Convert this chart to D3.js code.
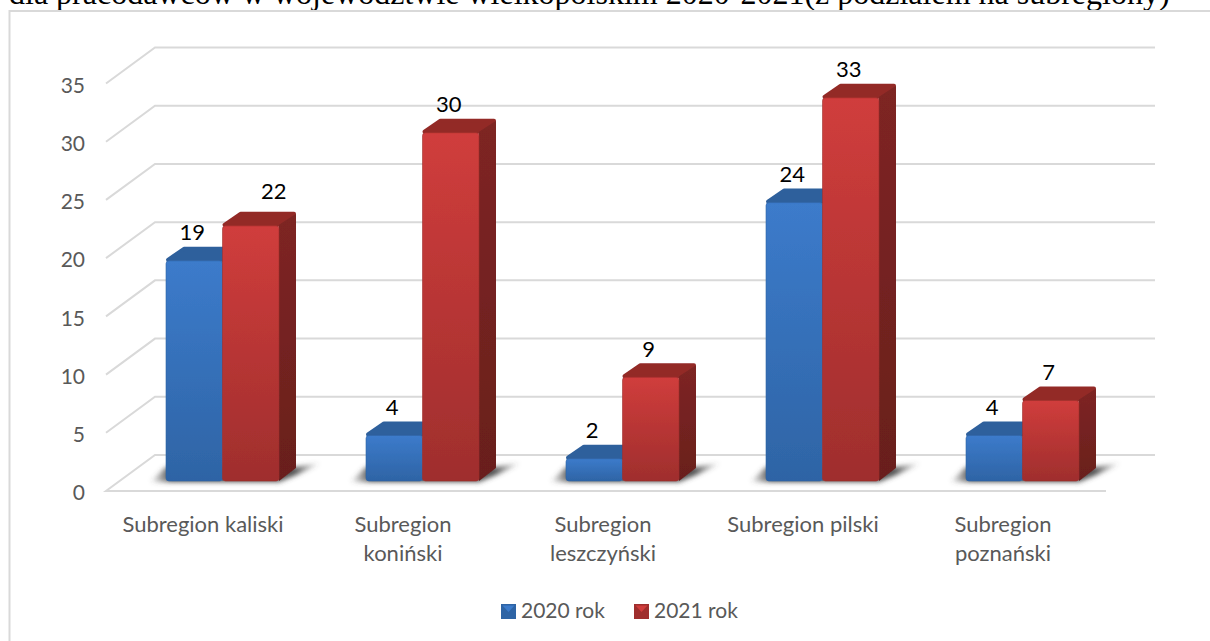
<!DOCTYPE html>
<html>
<head>
<meta charset="utf-8">
<script src="https://cdnjs.cloudflare.com/ajax/libs/d3/7.8.5/d3.min.js"></script>
<style>
  html, body { margin: 0; padding: 0; background: #fff; overflow: hidden; }
  text { font-family: Lato, "Open Sans", sans-serif; }
</style>
</head>
<body>
<div id="chart"></div>
<script>
const titleText = "dla pracodawców w województwie wielkopolskim 2020-2021(z podziałem na subregiony)";
const categories = [["Subregion kaliski"], ["Subregion", "koniński"], ["Subregion", "leszczyński"], ["Subregion pilski"], ["Subregion", "poznański"]];
const seriesNames = ["2020 rok", "2021 rok"];
const values2020 = [19, 4, 2, 24, 4];
const values2021 = [22, 30, 9, 33, 7];
const yTicks = [0, 5, 10, 15, 20, 25, 30, 35];

const width = 1210, height = 641;
const depth = { x: 49, y: 36 };      // floor depth of the fake 3d box
const barDepth = { x: 17, y: 13 };   // depth of a single column
const colors = {
  blue: { top: "#2f609c", side: "#2a568c", light: "#3c7bcb", dark: "#2e64a5" },
  red: { top: "#932a28", side: "#7e2523", light: "#d03d3c", dark: "#9f2e2d" }
};
const series = [
  { name: seriesNames[0], values: values2020, color: colors.blue, id: "blue" },
  { name: seriesNames[1], values: values2021, color: colors.red, id: "red" }
];

const svg = d3.select("#chart").append("svg")
  .attr("width", width)
  .attr("height", height);

const defs = svg.append("defs");
series.forEach(s => {
  const g = defs.append("linearGradient").attr("id", "front-" + s.id)
    .attr("x1", 0).attr("y1", 0).attr("x2", 0).attr("y2", 1);
  g.append("stop").attr("offset", 0).attr("stop-color", s.color.light);
  g.append("stop").attr("offset", 1).attr("stop-color", s.color.dark);
  const sg = defs.append("linearGradient").attr("id", "side-" + s.id)
    .attr("x1", 0).attr("y1", 0).attr("x2", 0).attr("y2", 1);
  sg.append("stop").attr("offset", 0).attr("stop-color", s.color.side);
  sg.append("stop").attr("offset", 1).attr("stop-color", d3.color(s.color.side).darker(0.5));
});
const shadowGrad = defs.append("linearGradient").attr("id", "shadow")
  .attr("x1", 0).attr("y1", 0).attr("x2", 1).attr("y2", 0);
shadowGrad.append("stop").attr("offset", 0).attr("stop-color", "#4a4a4a").attr("stop-opacity", 0);
shadowGrad.append("stop").attr("offset", 0.12).attr("stop-color", "#4a4a4a").attr("stop-opacity", 0.95);
shadowGrad.append("stop").attr("offset", 0.85).attr("stop-color", "#4a4a4a").attr("stop-opacity", 0.95);
shadowGrad.append("stop").attr("offset", 1).attr("stop-color", "#4a4a4a").attr("stop-opacity", 0);
defs.append("filter").attr("id", "blur").attr("x", "-20%").attr("y", "-50%").attr("width", "140%").attr("height", "200%")
  .append("feGaussianBlur").attr("stdDeviation", 2.5);
defs.append("filter").attr("id", "soft")
  .append("feGaussianBlur").attr("stdDeviation", 0.4);

// title running off the top of the page
svg.append("text")
  .attr("x", 9)
  .attr("y", 4)
  .style("font-family", "'Liberation Serif', serif")
  .style("font-size", "32px")
  .attr("fill", "#000")
  .text(titleText);

// chart frame, open at the right and bottom edge of the page
svg.append("path")
  .attr("d", `M9.5,${height}V11H${width}`)
  .attr("fill", "none")
  .attr("stroke", "#d9d9d9")
  .attr("stroke-width", 2);

const x0 = d3.scaleBand().domain(d3.range(categories.length)).range([106, 1106]);
const x1 = d3.scaleBand().domain(seriesNames).range([0, 113]);
const y = d3.scaleLinear().domain([0, 35]).range([491, 83.5]);
const barStart = i => x0(i) + x0.bandwidth() / 2 - 40;
const barBase = 10;  // columns stand a bit behind the front edge of the floor

// gridlines
svg.append("g").selectAll("path").data(yTicks).join("path")
  .attr("d", d => d === 0
    ? `M${x0.range()[1]},${y(0)}H${x0.range()[0]}L${x0.range()[0] + depth.x},${y(0) - depth.y}H${x0.range()[1] + depth.x}`
    : `M${x0.range()[0]},${y(d)}L${x0.range()[0] + depth.x},${y(d) - depth.y}H${x0.range()[1] + depth.x}`)
  .attr("fill", "none")
  .attr("stroke", "#d9d9d9")
  .attr("stroke-width", 2);

// value axis
const yAxis = svg.append("g")
  .attr("transform", "translate(91,0)")
  .call(d3.axisLeft(y).tickValues(yTicks).tickSize(0).tickPadding(6));
yAxis.select(".domain").remove();
yAxis.selectAll("text")
  .attr("dy", "0.42em")
  .style("font-family", "Lato, sans-serif")
  .style("font-size", "21px")
  .attr("fill", "#595959");

// floor shadows
svg.append("g").selectAll("path").data(categories).join("path")
  .attr("d", (d, i) => {
    const a = barStart(i), b = a + x1.bandwidth() * 2, base = y(0) - barBase;
    return `M${a - 16},${base + 1}L${a},${base - 14}H${b + 17}L${b + 42},${base - 18}L${b + 17},${base - 6}L${b},${base + 1}Z`;
  })
  .attr("fill", "url(#shadow)")
  .attr("filter", "url(#blur)");

// columns
const groups = svg.selectAll("g.cat").data(categories).join("g")
  .attr("class", "cat")
  .attr("filter", "url(#soft)");
series.forEach(s => {
  const w = x1.bandwidth();
  const bars = groups.append("g");
  const left = (d, i) => barStart(i) + x1(s.name);
  const top = (d, i) => y(s.values[i]) - barBase;
  const base = y(0) - barBase;

  bars.append("path") // top face, inset so the thick round stroke gives soft corners
    .attr("d", (d, i) => {
      const l = left(d, i), t = top(d, i);
      return `M${l + 2},${t}L${l + barDepth.x + 1},${t - barDepth.y + 2}H${l + w + barDepth.x - 2}L${l + w},${t}Z`;
    })
    .attr("fill", s.color.top)
    .attr("stroke", s.color.top)
    .attr("stroke-linejoin", "round")
    .attr("stroke-width", 4);
  bars.append("path") // side face
    .attr("d", (d, i) => {
      const l = left(d, i) + w, t = top(d, i);
      return `M${l},${t}L${l + barDepth.x},${t - barDepth.y + 2}V${base - barDepth.y}L${l},${base}Z`;
    })
    .attr("fill", `url(#side-${s.id})`);
  bars.append("rect") // front face
    .attr("x", left)
    .attr("y", (d, i) => top(d, i) + 1)
    .attr("width", w)
    .attr("height", (d, i) => base - top(d, i) - 1)
    .attr("rx", 3)
    .attr("fill", `url(#front-${s.id})`)
    .attr("stroke", s.color.dark)
    .attr("stroke-opacity", 0.6);
});

// value labels, the 22 sits off its column in the original
const labels = series.flatMap(s => s.values.map((v, i) => ({ v, i, s })));
svg.append("g").selectAll("text").data(labels).join("text")
  .attr("x", d => barStart(d.i) + x1(d.s.name) + x1.bandwidth() / 2 - 2 + (d.v === 22 ? 25 : 0))
  .attr("y", d => y(d.v) - barBase - 27 + (d.v === 22 ? -7 : 0))
  .attr("dy", "0.35em")
  .attr("text-anchor", "middle")
  .style("font-size", "22px")
  .attr("fill", "#000")
  .text(d => d.v);

// category labels
svg.append("g").selectAll("text").data(categories).join("text")
  .attr("x", (d, i) => x0(i) + x0.bandwidth() / 2 - 3)
  .attr("y", 532)
  .attr("text-anchor", "middle")
  .style("font-size", "22px")
  .attr("fill", "#595959")
  .selectAll("tspan").data(d => d).join("tspan")
  .attr("x", function() { return d3.select(this.parentNode).attr("x"); })
  .attr("dy", (d, i) => i ? 29 : 0)
  .text(d => d);

// legend
const legendX = d3.scalePoint().domain(seriesNames).range([501, 634]);
const legend = svg.append("g").selectAll("g").data(series).join("g")
  .attr("transform", d => `translate(${legendX(d.name)},604)`);
legend.append("rect")
  .attr("width", 15).attr("height", 15)
  .attr("fill", d => d.color.dark);
legend.append("path")
  .attr("d", "M1.5,1.5H13.5L7.5,8Z")
  .attr("fill", d => d.color.light);
legend.append("text")
  .attr("x", 20)
  .attr("y", 7)
  .attr("dy", "0.35em")
  .style("font-size", "21px")
  .attr("fill", "#595959")
  .text(d => d.name);
</script>
</body>
</html>
